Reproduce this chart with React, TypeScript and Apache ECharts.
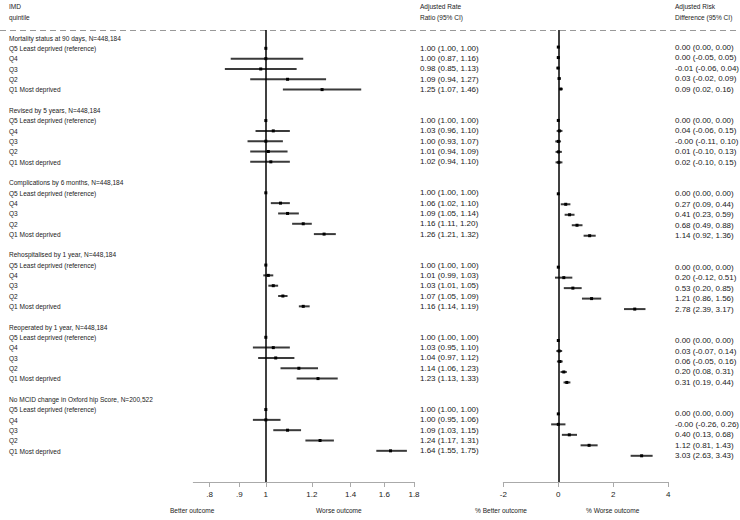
import React, { useEffect, useRef } from "react";
import * as echarts from "echarts";

// Outcomes (one block each) and the deprivation quintiles listed inside every block
const outcomes = [
  "Mortality status at 90 days, N=448,184",
  "Revised by 5 years, N=448,184",
  "Complications by 6 months, N=448,184",
  "Rehospitalised by 1 year, N=448,184",
  "Reoperated by 1 year, N=448,184",
  "No MCID change in Oxford hip Score, N=200,522",
];
const quintiles = ["Q5 Least deprived (reference)", "Q4", "Q3", "Q2", "Q1 Most deprived"];

// Adjusted rate ratios with 95% CI, one row per outcome, Q5..Q1
const rateRatio = [
  [1.0, 1.0, 0.98, 1.09, 1.25],
  [1.0, 1.03, 1.0, 1.01, 1.02],
  [1.0, 1.06, 1.09, 1.16, 1.26],
  [1.0, 1.01, 1.03, 1.07, 1.16],
  [1.0, 1.03, 1.04, 1.14, 1.23],
  [1.0, 1.0, 1.09, 1.24, 1.64],
];
const rateRatioLow = [
  [1.0, 0.87, 0.85, 0.94, 1.07],
  [1.0, 0.96, 0.93, 0.94, 0.94],
  [1.0, 1.02, 1.05, 1.11, 1.21],
  [1.0, 0.99, 1.01, 1.05, 1.14],
  [1.0, 0.95, 0.97, 1.06, 1.13],
  [1.0, 0.95, 1.03, 1.17, 1.55],
];
const rateRatioHigh = [
  [1.0, 1.16, 1.13, 1.27, 1.46],
  [1.0, 1.1, 1.07, 1.09, 1.1],
  [1.0, 1.1, 1.14, 1.2, 1.32],
  [1.0, 1.03, 1.05, 1.09, 1.19],
  [1.0, 1.1, 1.12, 1.23, 1.33],
  [1.0, 1.06, 1.15, 1.31, 1.75],
];

// Adjusted risk differences (percentage points) with 95% CI
const riskDiff = [
  [0.0, 0.0, -0.01, 0.03, 0.09],
  [0.0, 0.04, -0, 0.01, 0.02],
  [0.0, 0.27, 0.41, 0.68, 1.14],
  [0.0, 0.2, 0.53, 1.21, 2.78],
  [0.0, 0.03, 0.06, 0.2, 0.31],
  [0.0, -0, 0.4, 1.12, 3.03],
];
const riskDiffLow = [
  [0.0, -0.05, -0.06, -0.02, 0.02],
  [0.0, -0.06, -0.11, -0.1, -0.1],
  [0.0, 0.09, 0.23, 0.49, 0.92],
  [0.0, -0.12, 0.2, 0.86, 2.39],
  [0.0, -0.07, -0.05, 0.08, 0.19],
  [0.0, -0.26, 0.13, 0.81, 2.63],
];
const riskDiffHigh = [
  [0.0, 0.05, 0.04, 0.09, 0.16],
  [0.0, 0.15, 0.1, 0.13, 0.15],
  [0.0, 0.44, 0.59, 0.88, 1.36],
  [0.0, 0.51, 0.85, 1.56, 3.17],
  [0.0, 0.14, 0.16, 0.31, 0.44],
  [0.0, 0.26, 0.68, 1.43, 3.43],
];

// Axis ticks
const ratioTicks = [0.8, 0.9, 1, 1.2, 1.4, 1.6, 1.8];
const ratioTickLabels = [".8", ".9", "1", "1.2", "1.4", "1.6", "1.8"];
const ratioRange = [0.75, 1.8];
const diffRange = [-2, 4];

const FONT = "'Liberation Sans', Arial, sans-serif";
const TEXT = "#222";
const ROWS_PER_BLOCK = 7;
const NARROW = 0.82; // horizontal squeeze for the worded labels

const fmt = (v: number) => (v < 0 || Object.is(v, -0) ? "-" : "") + Math.abs(v).toFixed(2);
const ciText = (e: number, l: number, h: number) => `${fmt(e)} (${fmt(l)}, ${fmt(h)})`;
const rowOf = (b: number, q: number) => b * ROWS_PER_BLOCK + 1 + q;

export default function App() {
  const ref = useRef<HTMLDivElement>(null);

  useEffect(() => {
    if (!ref.current) return;
    const chart = echarts.init(ref.current, undefined, { renderer: "svg" });

    const rrData: number[][] = [];
    const rdData: number[][] = [];
    outcomes.forEach((_, b) => {
      quintiles.forEach((_q, i) => {
        const r = rowOf(b, i);
        rrData.push([
          Math.log(rateRatio[b][i]),
          Math.log(rateRatioLow[b][i]),
          Math.log(rateRatioHigh[b][i]),
          r,
        ]);
        rdData.push([riskDiff[b][i], riskDiffLow[b][i], riskDiffHigh[b][i], r]);
      });
    });

    const renderCI = (_params: any, api: any) => {
      const y = api.value(3);
      const lo = api.coord([api.value(1), y]);
      const hi = api.coord([api.value(2), y]);
      const pt = api.coord([api.value(0), y]);
      return {
        type: "group",
        children: [
          {
            type: "line",
            shape: { x1: lo[0], y1: lo[1], x2: hi[0], y2: hi[1] },
            style: { stroke: "#3a3a3a", lineWidth: 2 },
          },
          {
            type: "rect",
            shape: { x: pt[0] - 1.5, y: pt[1] - 1.5, width: 3, height: 3 },
            style: { fill: "#000" },
          },
        ],
      };
    };

    const refLine = {
      silent: true,
      symbol: "none",
      label: { show: false },
      lineStyle: { color: "#000", width: 1.5, type: "solid" },
      data: [{ xAxis: 0 }],
    };

    const axisCommon = {
      axisLine: { onZero: false, lineStyle: { color: "#aaa", width: 1 } },
      axisTick: { show: true, inside: false, length: 5, lineStyle: { color: "#aaa" } },
      splitLine: { show: false },
    };

    chart.setOption({
      animation: false,
      backgroundColor: "#fff",
      grid: [
        { left: 193.3, right: 326, top: 30, bottom: 38 },
        { left: 503.3, right: 71.7, top: 30, bottom: 38 },
      ],
      xAxis: [
        {
          gridIndex: 0,
          type: "value",
          min: Math.log(ratioRange[0]),
          max: Math.log(ratioRange[1]),
          ...axisCommon,
          axisTick: { ...axisCommon.axisTick, customValues: ratioTicks.map(Math.log) },
          axisLabel: {
            customValues: ratioTicks.map(Math.log),
            formatter: (v: number) => {
              let best = 0;
              ratioTicks.forEach((t, i) => {
                if (Math.abs(Math.log(t) - v) < Math.abs(Math.log(ratioTicks[best]) - v)) best = i;
              });
              return ratioTickLabels[best];
            },
            fontFamily: FONT,
            fontSize: 8,
            color: TEXT,
            margin: 8,
          },
        },
        {
          gridIndex: 1,
          type: "value",
          min: diffRange[0],
          max: diffRange[1],
          interval: 2,
          ...axisCommon,
          axisLabel: { fontFamily: FONT, fontSize: 8, color: TEXT, margin: 8 },
        },
      ],
      yAxis: [
        { gridIndex: 0, type: "value", inverse: true, min: -0.775, max: 43.02, show: false },
        { gridIndex: 1, type: "value", inverse: true, min: -0.63, max: 42.5, show: false },
      ],
      series: [
        {
          type: "custom",
          xAxisIndex: 0,
          yAxisIndex: 0,
          renderItem: renderCI,
          encode: { x: [0, 1, 2], y: 3 },
          data: rrData,
          clip: false,
          markLine: refLine,
        },
        {
          type: "custom",
          xAxisIndex: 1,
          yAxisIndex: 1,
          renderItem: renderCI,
          encode: { x: [0, 1, 2], y: 3 },
          data: rdData,
          clip: false,
          markLine: refLine,
        },
      ],
    });

    // Row texts are placed on the same vertical scales as the marks
    const yRR = (r: number) => chart.convertToPixel({ yAxisIndex: 0 }, r) as number;
    const yRD = (r: number) => chart.convertToPixel({ yAxisIndex: 1 }, r) as number;

    const txt = (text: string, x: number, y: number, scaleX = 1) => ({
      type: "text",
      silent: true,
      x,
      y,
      scaleX,
      style: { text, fill: TEXT, font: `8px ${FONT}`, verticalAlign: "middle" },
    });

    const texts: any[] = [];
    outcomes.forEach((name, b) => {
      texts.push(txt(name, 9, yRR(b * ROWS_PER_BLOCK), NARROW));
      quintiles.forEach((q, i) => {
        const r = rowOf(b, i);
        texts.push(txt(q, 9, yRR(r), NARROW));
        texts.push(txt(ciText(rateRatio[b][i], rateRatioLow[b][i], rateRatioHigh[b][i]), 420, yRR(r)));
        texts.push(txt(ciText(riskDiff[b][i], riskDiffLow[b][i], riskDiffHigh[b][i]), 675, yRD(r)));
      });
    });

    chart.setOption({
      graphic: [
        {
          type: "line",
          silent: true,
          shape: { x1: 0, y1: 30.5, x2: 740, y2: 30.5 },
          style: { stroke: "#999", lineWidth: 1, lineDash: [6, 4] },
        },
        txt("IMD", 9, 6, NARROW),
        txt("quintile", 9, 17, NARROW),
        txt("Adjusted Rate", 420, 6, NARROW),
        txt("Ratio (95% CI)", 420, 17, NARROW),
        txt("Adjusted Risk", 675, 6, NARROW),
        txt("Difference (95% CI)", 675, 17, NARROW),
        txt("Better outcome", 170, 510, NARROW),
        txt("Worse outcome", 316, 510, NARROW),
        txt("% Better outcome", 475, 510, NARROW),
        txt("% Worse outcome", 586, 510, NARROW),
        ...texts,
      ],
    });

    return () => chart.dispose();
  }, []);

  return (
    <div
      ref={ref}
      style={{ position: "fixed", left: 0, top: 0, width: 740, height: 520, background: "#fff" }}
    />
  );
}
